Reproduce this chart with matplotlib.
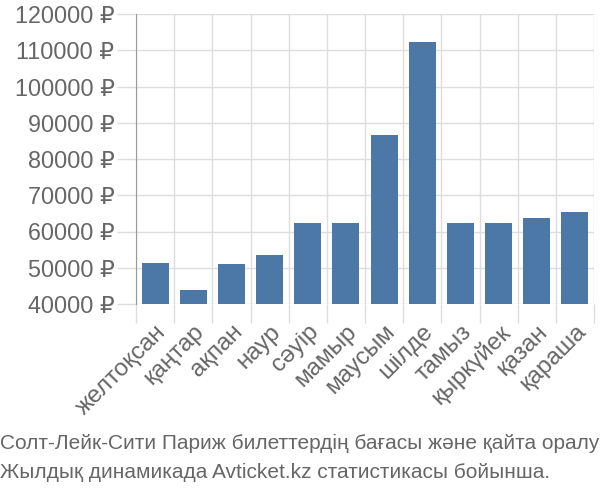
import matplotlib
matplotlib.use("Agg")
import matplotlib.pyplot as plt
import numpy as np

months = ["желтоқсан", "қаңтар", "ақпан", "наур", "сәуір", "мамыр",
          "маусым", "шілде", "тамыз", "қыркүйек", "қазан", "қараша"]
prices = [51400, 43900, 50950, 53500, 62250, 62250,
          86700, 112300, 62250, 62250, 63600, 65400]
yticks = [40000, 50000, 60000, 70000, 80000, 90000, 100000, 110000, 120000]
caption = ["Солт-Лейк-Сити Париж билеттердің бағасы және қайта оралу",
           "Жылдық динамикада Avticket.kz статистикасы бойынша."]

plt.rcParams['font.family'] = ['Liberation Sans', 'DejaVu Sans']
txt = '#666666'
grid = '#dddddd'

fig = plt.figure(figsize=(6, 5), dpi=100)
ax = fig.add_axes([136/600, 1-304/500, (594-136)/600, 290/500])

x = np.arange(len(months))
ax.bar(x, prices, width=0.71, color='#4c78a8', zorder=2)
ax.set_xlim(-0.5, len(months)-0.5)
ax.set_ylim(yticks[0], yticks[-1])

ax.set_yticks(yticks)
ax.set_yticklabels([f"{v} ₽" for v in yticks], color=txt, fontsize=16.8)
ax.set_xticks(np.arange(len(months)+1) - 0.5)
ax.set_xticklabels([])
ax.set_xticks(x, minor=True)
ax.set_xticklabels(months, minor=True, rotation=45, ha='right', va='top',
                   rotation_mode='anchor', color=txt, fontsize=17.5)
ax.tick_params(axis='x', which='minor', length=0, pad=12)
ax.tick_params(axis='both', which='major', length=13.5, color=grid, width=1)
ax.tick_params(axis='y', pad=2)
ax.grid(True, which='major', color=grid, linewidth=1, zorder=0)
for s in ['top', 'right', 'bottom']:
    ax.spines[s].set_visible(False)
ax.spines['left'].set_color('#999999')

fig.text(0.0, 1-443/500, caption[0], fontsize=15, color=txt, va='center', ha='left',
         family=['Liberation Sans Narrow', 'Liberation Sans', 'DejaVu Sans'])
fig.text(0.0, 1-472/500, caption[1], fontsize=15, color=txt, va='center', ha='left',
         family=['Liberation Sans Narrow', 'Liberation Sans', 'DejaVu Sans'])

fig.savefig("out.png", dpi=100)
